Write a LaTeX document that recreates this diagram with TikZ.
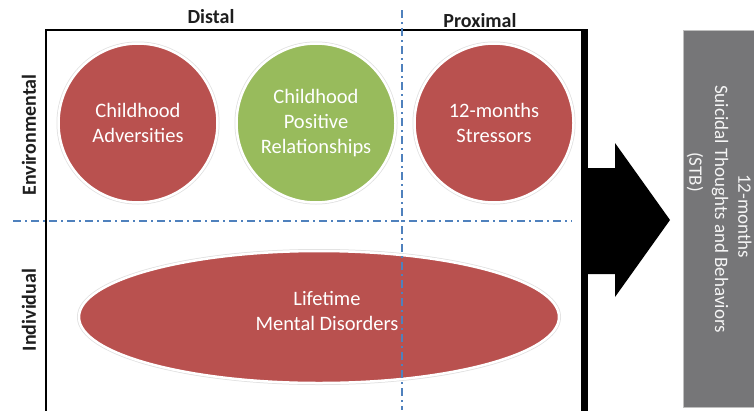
\documentclass[tikz,border=0pt]{standalone}
\usepackage{fontspec}
\setmainfont{Carlito}
\usetikzlibrary{shapes.geometric}
\definecolor{cred}{RGB}{185,81,79}
\definecolor{cgreen}{RGB}{152,187,92}
\definecolor{cgray}{RGB}{118,118,120}
\definecolor{cblue}{RGB}{79,129,189}
\definecolor{ctext}{RGB}{30,30,30}
\begin{document}
\begin{tikzpicture}[x=1pt,y=-1pt,
  bubble/.style={circle, minimum size=159pt, inner sep=0pt, draw=white, line width=2.5pt,
    preaction={draw=black!12, line width=4pt},
    text=white, align=center, font=\fontsize{20.5}{25}\selectfont},
  oval/.style={ellipse, minimum width=480pt, minimum height=132pt, inner sep=0pt, draw=white, line width=2.5pt,
    preaction={draw=black!12, line width=4pt}},
  heading/.style={font=\bfseries\fontsize{20}{24}\selectfont, text=ctext, inner sep=0pt},
  stbtext/.style={rotate=-90, font=\fontsize{19}{24}\selectfont, text=white!92!gray, inner sep=0pt},
  divider/.style={cblue, line width=1.3pt, dash pattern=on 8pt off 4pt on 2pt off 4pt}]
\useasboundingbox (0,0) rectangle (754,410);
\fill[white] (0,0) rectangle (754,410);

% frame
\draw[line width=2.5pt, black] (46,412) -- (46,30) -- (584,30);
\fill[black] (580.5,28.75) rectangle (587.5,412);

% arrow
\fill[black] (584,168) -- (615,168) -- (615,143) -- (670,220) -- (615,297) -- (615,274) -- (584,274) -- cycle;

% outcome box
\node[fill=cgray, draw=black!25, line width=0.8pt, minimum width=72pt, minimum height=377pt, inner sep=0pt] (stb) at (719,218.5) {};
\node[stbtext] (stb1) at (745,216) {12-months};
\node[stbtext] (stb2) at (720,209) {Suicidal Thoughts and Behaviors};
\node[stbtext] (stb3) at (695,172) {(STB)};

% bubbles
\node[bubble, fill=cred] (adv) at (138,123) {Childhood\\Adversities};
\node[bubble, fill=cgreen] (pos) at (316,123) {Childhood\\Positive\\Relationships};
\node[bubble, fill=cred] (str) at (494,123) {12-months\\Stressors};
\node[oval, fill=cred] (ment) at (319,317) {};
\node[text=white, align=center, font=\fontsize{20.5}{25}\selectfont, inner sep=0pt] (menttext) at (327,311) {Lifetime\\Mental Disorders};

% dividers
\draw[divider] (402,10) -- (402,410);
\draw[divider] (13,221) -- (572,221);

% headings
\node[heading] (distal) at (211,17) {Distal};
\node[heading] (prox) at (480,21) {Proximal};
\node[heading, rotate=90] (env) at (29,135) {Environmental};
\node[heading, rotate=90] (ind) at (29,310) {Individual};
\end{tikzpicture}
\end{document}
